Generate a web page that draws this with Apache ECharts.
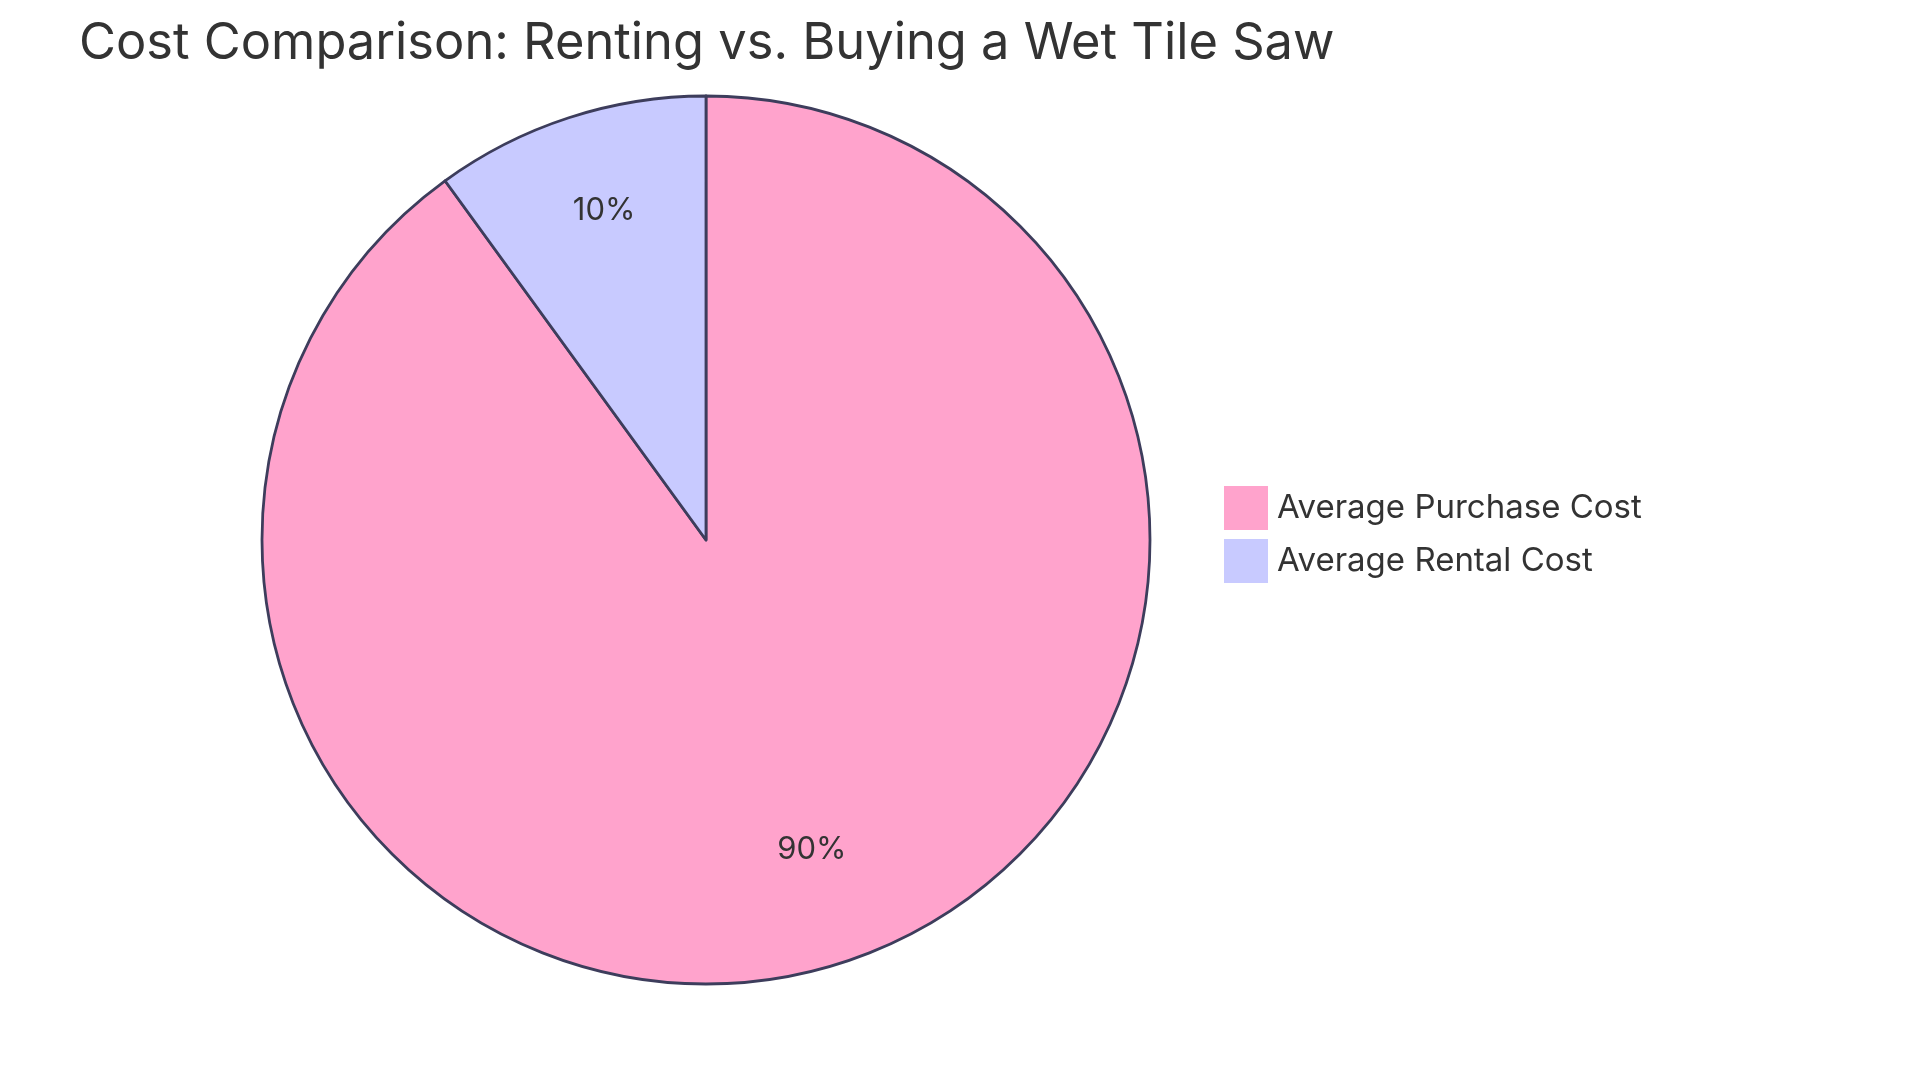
<!DOCTYPE html>
<html>
<head>
<meta charset="utf-8">
<script src="https://cdn.jsdelivr.net/npm/echarts@6/dist/echarts.min.js"></script>
<style>html,body{margin:0;padding:0;background:#fff}#c{width:1920px;height:1083px}</style>
</head>
<body>
<div id="c"></div>
<script>
const titleText = 'Cost Comparison: Renting vs. Buying a Wet Tile Saw';
const categories = ['Average Purchase Cost', 'Average Rental Cost'];
const values = [90, 10];
const colors = ['#FFA3CC', '#C8CAFF'];

const chart = echarts.init(document.getElementById('c'));
const FONT = 'Inter, "Noto Sans", sans-serif';
const data = categories.map((n, i) => ({ name: n, value: values[i], itemStyle: { color: colors[i] } }));
const R = 444;
const C = [706, 540];
chart.setOption({
  animation: false,
  backgroundColor: '#fff',
  title: {
    text: titleText,
    left: 74,
    top: 13,
    textStyle: { fontFamily: FONT, fontSize: 50.6, fontWeight: 'normal', color: '#333' }
  },
  legend: {
    orient: 'vertical',
    left: 1219,
    top: 481,
    itemWidth: 44,
    itemHeight: 44,
    itemGap: 9,
    icon: 'rect',
    itemStyle: { borderWidth: 0 },
    textStyle: { fontFamily: FONT, fontSize: 33, color: '#333', padding: [0, 0, 0, 4] },
    data: categories
  },
  series: [
    {
      type: 'pie',
      center: C,
      radius: [0, R],
      startAngle: 90,
      clockwise: true,
      avoidLabelOverlap: false,
      label: { show: false },
      labelLine: { show: false },
      itemStyle: { borderColor: '#3d3d5c', borderWidth: 2.8 },
      emphasis: { disabled: true },
      data: data
    },
    {
      type: 'pie',
      center: C,
      radius: [R * 0.5, R],
      startAngle: 90,
      clockwise: true,
      silent: true,
      avoidLabelOverlap: false,
      label: {
        show: true,
        position: 'inside',
        formatter: p => Math.round(p.percent) + '%',
        fontFamily: FONT,
        fontSize: 31,
        color: '#333',
        offset: [2, -10]
      },
      labelLine: { show: false },
      itemStyle: { color: 'rgba(0,0,0,0)', borderWidth: 0 },
      emphasis: { disabled: true },
      data: categories.map((n, i) => ({ name: n, value: values[i] }))
    }
  ]
});
</script>
</body>
</html>
